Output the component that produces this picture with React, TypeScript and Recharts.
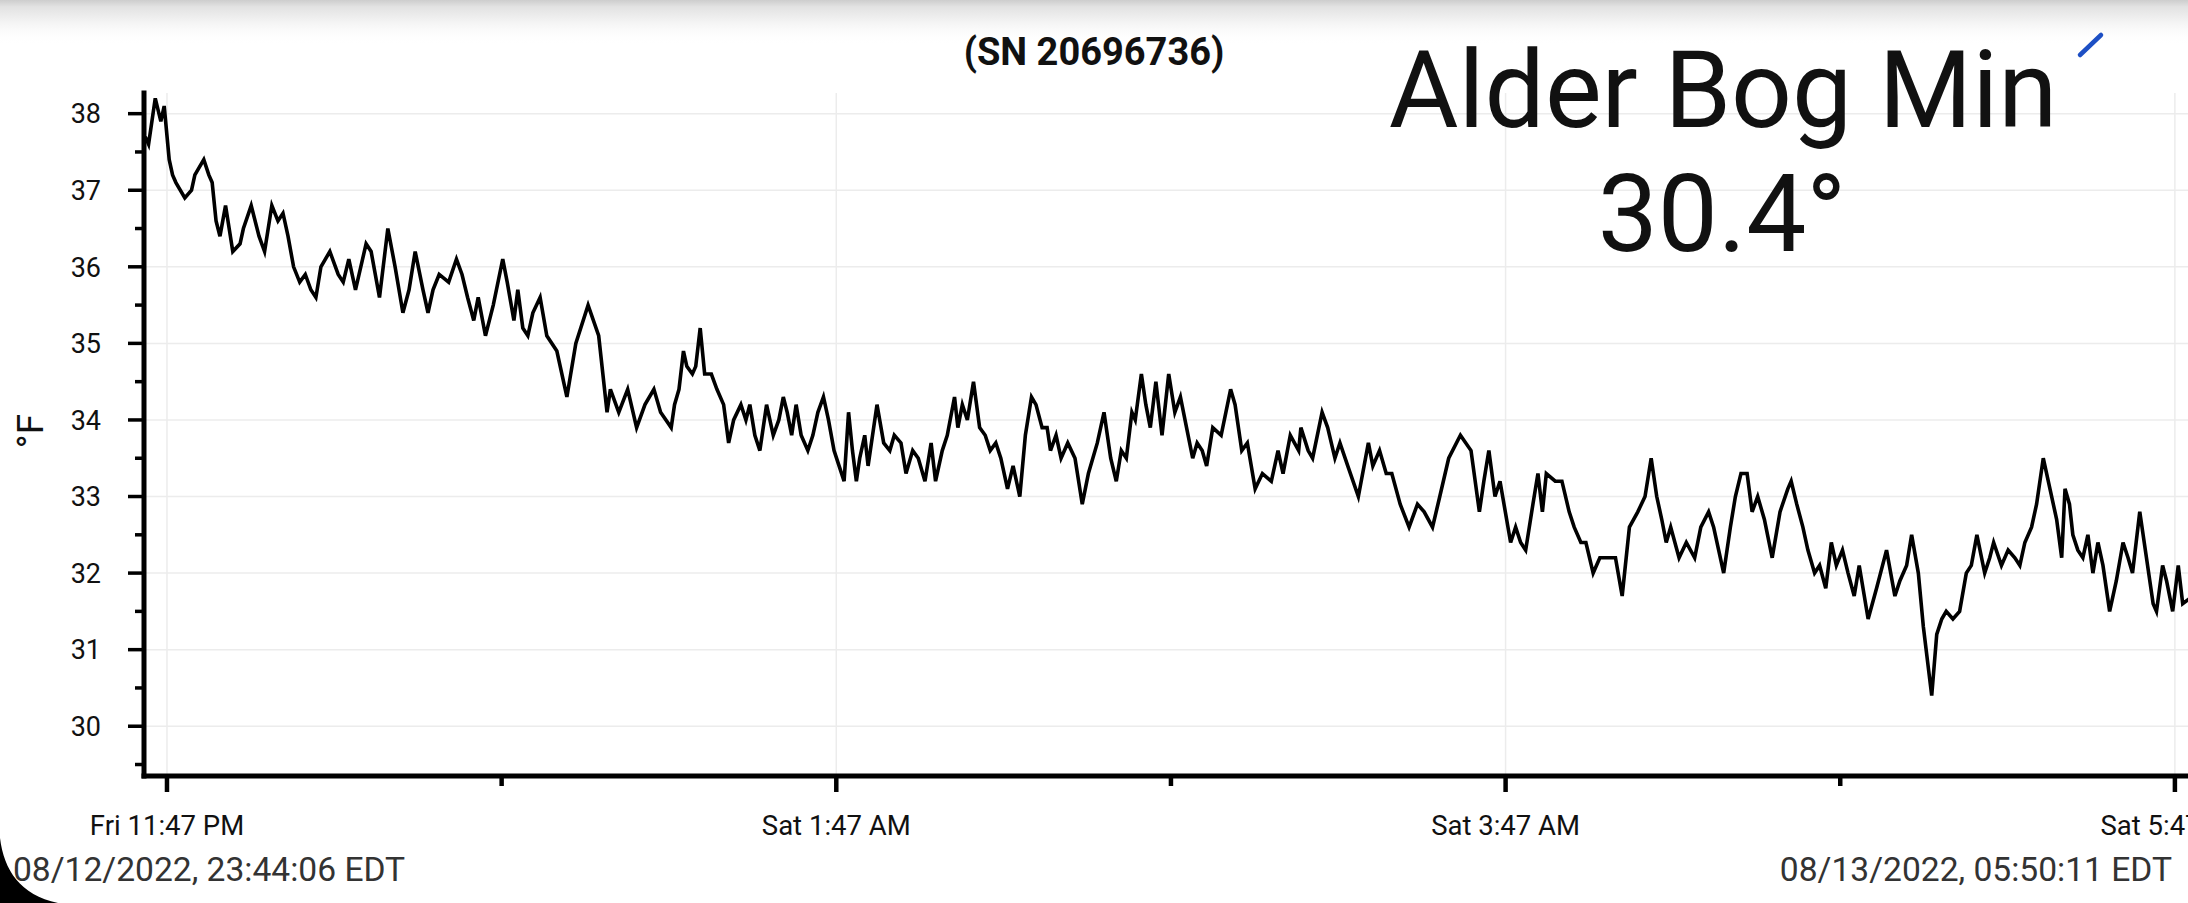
import React from 'react';
import { LineChart, Line, XAxis, YAxis, CartesianGrid } from 'recharts';

// minutes after Fri 11:47 PM, temperature in °F
const readings: [number, number][] = [
  [-3.9, 37.7], [-3.3, 37.6], [-2.1, 38.2], [-1.1, 37.9], [-0.5, 38.1], [0.4, 37.4], [1.0, 37.2], [1.6, 37.1],
  [3.2, 36.9], [4.4, 37.0], [5.0, 37.2], [6.6, 37.4], [7.5, 37.2], [8.1, 37.1], [8.8, 36.6], [9.5, 36.4],
  [10.5, 36.8], [11.8, 36.2], [13.1, 36.3], [13.7, 36.5], [15.1, 36.8], [16.5, 36.4], [17.5, 36.2], [18.8, 36.8],
  [19.9, 36.6], [20.8, 36.7], [21.7, 36.4], [22.7, 36.0], [23.8, 35.8], [24.8, 35.9], [25.8, 35.7], [26.7, 35.6],
  [27.6, 36.0], [29.2, 36.2], [30.7, 35.9], [31.6, 35.8], [32.6, 36.1], [33.8, 35.7], [35.7, 36.3], [36.6, 36.2],
  [38.1, 35.6], [39.6, 36.5], [40.9, 36.0], [42.3, 35.4], [43.4, 35.7], [44.5, 36.2], [45.9, 35.7], [46.8, 35.4],
  [47.7, 35.7], [48.8, 35.9], [50.5, 35.8], [51.9, 36.1], [52.9, 35.9], [53.9, 35.6], [55.0, 35.3], [55.8, 35.6],
  [57.1, 35.1], [58.5, 35.5], [60.2, 36.1], [61.0, 35.8], [62.2, 35.3], [62.9, 35.7], [63.8, 35.2], [64.7, 35.1],
  [65.6, 35.4], [66.9, 35.6], [68.1, 35.1], [69.9, 34.9], [71.7, 34.3], [73.3, 35.0], [75.5, 35.5], [77.4, 35.1],
  [78.9, 34.1], [79.5, 34.4], [81.0, 34.1], [82.6, 34.4], [84.2, 33.9], [85.7, 34.2], [87.3, 34.4], [88.5, 34.1],
  [90.4, 33.9], [91.0, 34.2], [91.8, 34.4], [92.6, 34.9], [93.2, 34.7], [94.2, 34.6], [94.8, 34.7], [95.6, 35.2],
  [96.4, 34.6], [97.6, 34.6], [98.6, 34.4], [99.8, 34.2], [100.7, 33.7], [101.6, 34.0], [102.9, 34.2], [103.8, 34.0],
  [104.5, 34.2], [105.4, 33.8], [106.3, 33.6], [107.5, 34.2], [108.7, 33.8], [109.7, 34.0], [110.5, 34.3], [111.2, 34.1],
  [112.0, 33.8], [112.8, 34.2], [113.7, 33.8], [114.9, 33.6], [115.8, 33.8], [116.7, 34.1], [117.7, 34.3], [118.6, 34.0],
  [119.6, 33.6], [120.5, 33.4], [121.4, 33.2], [122.2, 34.1], [122.9, 33.6], [123.6, 33.2], [124.2, 33.5], [125.1, 33.8],
  [125.7, 33.4], [126.3, 33.7], [127.3, 34.2], [128.5, 33.7], [129.6, 33.6], [130.4, 33.8], [131.6, 33.7], [132.5, 33.3],
  [133.7, 33.6], [134.7, 33.5], [135.9, 33.2], [137.0, 33.7], [137.8, 33.2], [139.0, 33.6], [139.9, 33.8], [141.2, 34.3],
  [141.8, 33.9], [142.6, 34.2], [143.5, 34.0], [144.6, 34.5], [145.7, 33.9], [146.7, 33.8], [147.6, 33.6], [148.6, 33.7],
  [149.5, 33.5], [150.7, 33.1], [151.7, 33.4], [152.9, 33.0], [153.9, 33.8], [155.0, 34.3], [155.8, 34.2], [156.9, 33.9],
  [157.8, 33.9], [158.4, 33.6], [159.4, 33.8], [160.3, 33.5], [161.5, 33.7], [162.8, 33.5], [164.1, 32.9], [165.2, 33.3],
  [166.8, 33.7], [168.0, 34.1], [169.2, 33.5], [170.2, 33.2], [171.1, 33.6], [172.0, 33.5], [173.0, 34.1], [173.6, 34.0],
  [174.7, 34.6], [175.5, 34.2], [176.3, 33.9], [177.3, 34.5], [178.4, 33.8], [179.6, 34.6], [180.7, 34.1], [181.7, 34.3],
  [182.8, 33.9], [183.9, 33.5], [184.7, 33.7], [185.6, 33.6], [186.4, 33.4], [187.5, 33.9], [189.0, 33.8], [190.7, 34.4],
  [191.5, 34.2], [192.7, 33.6], [193.7, 33.7], [195.1, 33.1], [196.4, 33.3], [198.0, 33.2], [199.2, 33.6], [200.1, 33.3],
  [201.4, 33.8], [202.9, 33.6], [203.3, 33.9], [204.6, 33.6], [205.4, 33.5], [207.1, 34.1], [208.1, 33.9], [209.4, 33.5],
  [210.3, 33.7], [211.7, 33.4], [213.6, 33.0], [215.4, 33.7], [216.2, 33.4], [217.4, 33.6], [218.6, 33.3], [219.6, 33.3],
  [221.1, 32.9], [222.7, 32.6], [224.2, 32.9], [225.4, 32.8], [226.9, 32.6], [228.2, 33.0], [229.8, 33.5], [231.9, 33.8],
  [233.8, 33.6], [235.3, 32.8], [236.1, 33.2], [237.0, 33.6], [238.1, 33.0], [239.0, 33.2], [240.9, 32.4], [241.8, 32.6],
  [242.7, 32.4], [243.6, 32.3], [244.9, 32.9], [245.8, 33.3], [246.6, 32.8], [247.3, 33.3], [248.9, 33.2], [250.1, 33.2],
  [251.4, 32.8], [252.3, 32.6], [253.5, 32.4], [254.4, 32.4], [255.7, 32.0], [256.9, 32.2], [258.5, 32.2], [259.7, 32.2],
  [260.9, 31.7], [262.2, 32.6], [263.7, 32.8], [265.0, 33.0], [266.1, 33.5], [267.1, 33.0], [268.0, 32.7], [268.8, 32.4],
  [269.6, 32.6], [271.1, 32.2], [272.4, 32.4], [273.9, 32.2], [275.0, 32.6], [276.4, 32.8], [277.3, 32.6], [278.2, 32.3],
  [279.1, 32.0], [280.3, 32.6], [281.2, 33.0], [282.2, 33.3], [283.3, 33.3], [284.2, 32.8], [285.2, 33.0], [286.4, 32.7],
  [287.8, 32.2], [289.2, 32.8], [290.6, 33.1], [291.2, 33.2], [292.2, 32.9], [293.3, 32.6], [294.2, 32.3], [295.4, 32.0],
  [296.3, 32.1], [297.4, 31.8], [298.4, 32.4], [299.3, 32.1], [300.4, 32.3], [301.4, 32.0], [302.5, 31.7], [303.4, 32.1],
  [305.0, 31.4], [306.5, 31.8], [308.3, 32.3], [309.8, 31.7], [310.7, 31.9], [311.9, 32.1], [312.8, 32.5], [314.0, 32.0],
  [314.9, 31.3], [316.4, 30.4], [317.3, 31.2], [318.2, 31.4], [319.0, 31.5], [320.2, 31.4], [321.4, 31.5], [322.6, 32.0],
  [323.5, 32.1], [324.5, 32.5], [325.9, 32.0], [326.8, 32.2], [327.5, 32.4], [328.9, 32.1], [330.1, 32.3], [331.3, 32.2],
  [332.2, 32.1], [333.1, 32.4], [334.3, 32.6], [335.2, 32.9], [336.4, 33.5], [337.6, 33.1], [338.8, 32.7], [339.7, 32.2],
  [340.3, 33.1], [341.1, 32.9], [341.7, 32.5], [342.6, 32.3], [343.5, 32.2], [344.4, 32.5], [345.3, 32.0], [346.2, 32.4],
  [347.1, 32.1], [348.3, 31.5], [349.5, 31.9], [350.7, 32.4], [351.6, 32.2], [352.4, 32.0], [353.7, 32.8], [354.9, 32.2],
  [356.1, 31.6], [356.7, 31.5], [357.8, 32.1], [358.5, 31.9], [359.6, 31.5], [360.6, 32.1], [361.4, 31.6], [363.2, 31.7],
];

const xTicks = [0, 60, 120, 180, 240, 300, 360];
const xTickLabels: Record<number, string> = {
  0: 'Fri 11:47 PM',
  120: 'Sat 1:47 AM',
  240: 'Sat 3:47 AM',
  360: 'Sat 5:47 AM',
};
const yTicks = [29.5, 30, 30.5, 31, 31.5, 32, 32.5, 33, 33.5, 34, 34.5, 35, 35.5, 36, 36.5, 37, 37.5, 38];
const yGrid = [30, 31, 32, 33, 34, 35, 36, 37, 38];
const xGrid = [0, 120, 240, 360];

const title = '(SN 20696736)';
const stationName = 'Alder Bog Min';
const minLabel = '30.4°';
const startStamp = '08/12/2022, 23:44:06 EDT';
const endStamp = '08/13/2022, 05:50:11 EDT';

const font = 'Roboto, "Noto Sans", sans-serif';

const data = readings.map(([t, temp]) => ({ t, temp }));

function YTick(props: any) {
  const { x, y, payload } = props;
  const major = Number.isInteger(payload.value);
  return (
    <g>
      <line x1={x - (major ? 16 : 9)} x2={x} y1={y} y2={y} stroke="#000" strokeWidth={3.5} />
      {major && (
        <text x={x - 43} y={y} dy="0.36em" textAnchor="end" fontSize={27} fill="#111" fontFamily={font}>
          {payload.value}
        </text>
      )}
    </g>
  );
}

function XTick(props: any) {
  const { x, y, payload } = props;
  const label = xTickLabels[payload.value];
  return (
    <g>
      <line x1={x} x2={x} y1={y} y2={y + (label ? 16 : 10)} stroke="#000" strokeWidth={4.5} />
      {label && (
        <text x={x} y={y + 59} textAnchor="middle" fontSize={27.5} fill="#111" fontFamily={font}>
          {label}
        </text>
      )}
    </g>
  );
}

export default function App() {
  return (
    <div style={{ position: 'absolute', left: 0, top: 0, width: 2188, height: 903, overflow: 'hidden', background: '#fff' }}>
      <LineChart width={2200} height={903} data={data} margin={{ top: 93, right: 0, bottom: 67, left: 84 }}>
        <CartesianGrid stroke="#ececec" strokeWidth={1.5} horizontalValues={yGrid} verticalValues={xGrid} />
        <XAxis
          dataKey="t"
          type="number"
          domain={[-4.12, 364.5]}
          allowDataOverflow
          ticks={xTicks}
          interval={0}
          height={60}
          tickSize={0}
          tickMargin={0}
          tickLine={false}
          axisLine={{ stroke: '#000', strokeWidth: 5, strokeLinecap: 'square' }}
          tick={(p: any) => <XTick {...p} />}
        />
        <YAxis
          type="number"
          domain={[29.35, 38.27]}
          allowDataOverflow
          ticks={yTicks}
          interval={0}
          width={60}
          tickSize={0}
          tickMargin={0}
          tickLine={false}
          axisLine={{ stroke: '#000', strokeWidth: 5, strokeLinecap: 'square' }}
          tick={(p: any) => <YTick {...p} />}
        />
        <Line
          type="linear"
          dataKey="temp"
          stroke="#000"
          strokeWidth={3.6}
          strokeLinejoin="miter"
          dot={false}
          activeDot={false}
          isAnimationActive={false}
        />
      </LineChart>
      <svg
        width={2188}
        height={903}
        style={{ position: 'absolute', left: 0, top: 0, pointerEvents: 'none' }}
      >
        <defs>
          <linearGradient id="topShade" x1="0" y1="0" x2="0" y2="1">
            <stop offset="0" stopColor="#cdcdcd" />
            <stop offset="0.15" stopColor="#e2e2e2" />
            <stop offset="0.5" stopColor="#f4f4f4" />
            <stop offset="1" stopColor="#ffffff" stopOpacity={0} />
          </linearGradient>
        </defs>
        <rect x={0} y={0} width={2188} height={45} fill="url(#topShade)" />
        <text x={1094} y={65} textAnchor="middle" fontSize={38} fontWeight={700} fill="#111" fontFamily={font}>
          {title}
        </text>
        <text x={1723} y={127} textAnchor="middle" fontSize={107} fill="#111" fontFamily={font}>
          {stationName}
        </text>
        <text x={1722} y={251} textAnchor="middle" fontSize={107} fill="#111" fontFamily={font}>
          {minLabel}
        </text>
        <line x1={2080} y1={55} x2={2101} y2={35} stroke="#1d4fc4" strokeWidth={4.5} strokeLinecap="round" />
        <text
          transform="translate(43,431) rotate(-90)"
          textAnchor="middle"
          fontSize={37}
          fill="#111"
          fontFamily={font}
        >
          °F
        </text>
        <text x={13} y={881} fontSize={33.6} fill="#333" fontFamily={font}>
          {startStamp}
        </text>
        <text x={2172} y={881} textAnchor="end" fontSize={33.6} fill="#333" fontFamily={font}>
          {endStamp}
        </text>
        <path d="M0 838 C 4 870, 20 895, 58 903 L 0 903 Z" fill="#000" />
      </svg>
    </div>
  );
}
